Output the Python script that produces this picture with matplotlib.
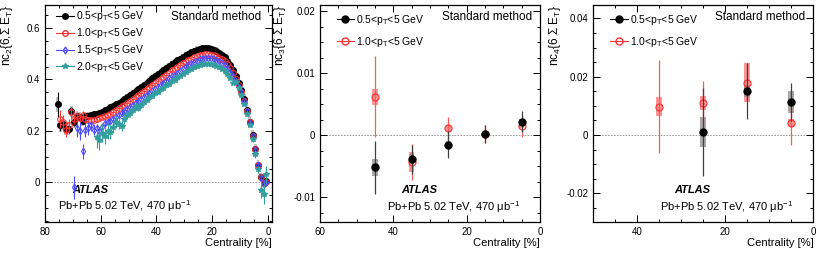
import numpy as np
import matplotlib
matplotlib.use('Agg')
import matplotlib.pyplot as plt
from matplotlib.lines import Line2D
from matplotlib.ticker import MultipleLocator, FuncFormatter

plt.rcParams['font.family'] = ['Liberation Sans', 'DejaVu Sans']
plt.rcParams['mathtext.fontset'] = 'custom'
plt.rcParams['mathtext.rm'] = 'Liberation Sans'
plt.rcParams['mathtext.it'] = 'Liberation Sans:italic'
plt.rcParams['mathtext.bf'] = 'Liberation Sans:bold'

#### panel 1 : nc2, 1% centrality bins
cent_k = np.arange(75.5, 0, -1)
cent_r = np.arange(74.5, 0, -1)
cent_b = np.arange(69.5, 0, -1)
cent_c = np.arange(61.5, 0, -1)

nc2_k = [0.303, 0.221, 0.228, 0.208, 0.209, 0.276, 0.234, 0.256, 0.255, 0.238,
         0.258, 0.259, 0.261, 0.264, 0.267, 0.271, 0.275, 0.280, 0.285, 0.291,
         0.297, 0.303, 0.310, 0.317, 0.324, 0.331, 0.339, 0.347, 0.355, 0.363,
         0.371, 0.380, 0.388, 0.396, 0.404, 0.412, 0.420, 0.428, 0.436, 0.444,
         0.452, 0.460, 0.467, 0.474, 0.481, 0.488, 0.494, 0.500, 0.506, 0.511,
         0.516, 0.519, 0.521, 0.522, 0.522, 0.520, 0.516, 0.511, 0.505, 0.497,
         0.487, 0.472, 0.455, 0.435, 0.413, 0.388, 0.359, 0.323, 0.281, 0.236,
         0.182, 0.130, 0.068, 0.022, -0.002, 0.003]
stat_k = [0.050, 0.020, 0.022, 0.018, 0.018, 0.015, 0.015, 0.012, 0.012, 0.010,
          0.008, 0.008, 0.007, 0.006, 0.006, 0.005, 0.005, 0.005, 0.004, 0.004,
          0.004, 0.003, 0.003, 0.003, 0.003, 0.003, 0.003, 0.003, 0.003, 0.003,
          0.003, 0.003, 0.003, 0.003, 0.003, 0.003, 0.003, 0.003, 0.003, 0.003,
          0.003, 0.003, 0.003, 0.003, 0.003, 0.003, 0.003, 0.003, 0.003, 0.003,
          0.003, 0.003, 0.003, 0.003, 0.003, 0.003, 0.003, 0.003, 0.003, 0.003,
          0.003, 0.003, 0.003, 0.003, 0.003, 0.003, 0.003, 0.003, 0.003, 0.004,
          0.004, 0.005, 0.006, 0.008, 0.010, 0.010]
sys_k = [0.030, 0.025, 0.025, 0.025, 0.025, 0.022, 0.022, 0.020, 0.020, 0.018,
         0.015, 0.015, 0.014, 0.013, 0.012, 0.011, 0.010, 0.010, 0.009, 0.009,
         0.008, 0.008, 0.008, 0.008, 0.008, 0.008, 0.008, 0.008, 0.008, 0.008,
         0.008, 0.008, 0.008, 0.008, 0.008, 0.009, 0.009, 0.009, 0.009, 0.010,
         0.010, 0.010, 0.010, 0.011, 0.011, 0.011, 0.012, 0.012, 0.012, 0.012,
         0.013, 0.013, 0.013, 0.013, 0.013, 0.013, 0.013, 0.014, 0.014, 0.014,
         0.015, 0.015, 0.016, 0.017, 0.018, 0.019, 0.020, 0.021, 0.022, 0.022,
         0.022, 0.020, 0.018, 0.015, 0.012, 0.010]

nc2_r = [0.247, 0.234, 0.205, 0.222, 0.272, 0.245, 0.256, 0.250, 0.262, 0.245,
         0.243, 0.243, 0.244, 0.246, 0.249, 0.252, 0.256, 0.260, 0.267, 0.274,
         0.281, 0.288, 0.295, 0.302, 0.309, 0.317, 0.325, 0.333, 0.341, 0.349,
         0.355, 0.363, 0.371, 0.379, 0.387, 0.395, 0.403, 0.411, 0.419, 0.427,
         0.435, 0.442, 0.449, 0.456, 0.463, 0.469, 0.475, 0.481, 0.486, 0.491,
         0.495, 0.497, 0.498, 0.498, 0.497, 0.494, 0.490, 0.485, 0.479, 0.471,
         0.459, 0.443, 0.424, 0.403, 0.379, 0.351, 0.317, 0.277, 0.233, 0.180,
         0.129, 0.066, 0.020, -0.002, 0.002]
stat_r = [0.035, 0.028, 0.030, 0.025, 0.022, 0.020, 0.018, 0.016, 0.015, 0.013,
          0.011, 0.010, 0.009, 0.008, 0.007, 0.006, 0.006, 0.005, 0.005, 0.005,
          0.004, 0.004, 0.004, 0.004, 0.004, 0.004, 0.004, 0.004, 0.004, 0.004,
          0.004, 0.004, 0.004, 0.004, 0.004, 0.004, 0.004, 0.004, 0.004, 0.004,
          0.004, 0.004, 0.004, 0.004, 0.004, 0.004, 0.004, 0.004, 0.004, 0.004,
          0.004, 0.004, 0.004, 0.004, 0.004, 0.004, 0.004, 0.004, 0.004, 0.004,
          0.004, 0.004, 0.004, 0.004, 0.004, 0.004, 0.004, 0.004, 0.005, 0.005,
          0.006, 0.007, 0.008, 0.010, 0.010]

nc2_b = [-0.020, 0.212, 0.200, 0.120, 0.205, 0.210, 0.222, 0.205, 0.210, 0.200,
         0.215, 0.230, 0.233, 0.240, 0.246, 0.253, 0.262, 0.270, 0.278, 0.286,
         0.294, 0.302, 0.310, 0.318, 0.325, 0.333, 0.341, 0.348, 0.355, 0.363,
         0.372, 0.380, 0.388, 0.396, 0.404, 0.412, 0.419, 0.426, 0.433, 0.440,
         0.451, 0.457, 0.463, 0.468, 0.473, 0.478, 0.481, 0.483, 0.484, 0.483,
         0.480, 0.476, 0.471, 0.464, 0.456, 0.444, 0.430, 0.413, 0.394, 0.372,
         0.350, 0.316, 0.276, 0.232, 0.178, 0.127, 0.066, 0.018, -0.006, 0.000]
stat_b = [0.045, 0.035, 0.035, 0.030, 0.028, 0.025, 0.022, 0.020, 0.018, 0.016,
          0.015, 0.013, 0.012, 0.011, 0.010, 0.009, 0.008, 0.008, 0.007, 0.007,
          0.006, 0.006, 0.005, 0.005, 0.005, 0.005, 0.005, 0.005, 0.005, 0.005,
          0.005, 0.005, 0.005, 0.005, 0.005, 0.005, 0.005, 0.005, 0.005, 0.005,
          0.005, 0.005, 0.005, 0.005, 0.005, 0.005, 0.005, 0.005, 0.005, 0.005,
          0.005, 0.005, 0.005, 0.005, 0.005, 0.005, 0.005, 0.005, 0.005, 0.005,
          0.005, 0.005, 0.006, 0.006, 0.007, 0.008, 0.010, 0.012, 0.015, 0.015]

nc2_c = [0.175, 0.165, 0.190, 0.180, 0.200, 0.195, 0.215, 0.234, 0.227, 0.220,
         0.245, 0.262, 0.270, 0.282, 0.295, 0.288, 0.300, 0.312, 0.322, 0.330,
         0.336, 0.347, 0.350, 0.362, 0.366, 0.378, 0.382, 0.394, 0.397, 0.408,
         0.414, 0.423, 0.428, 0.436, 0.440, 0.448, 0.451, 0.457, 0.460, 0.462,
         0.462, 0.461, 0.458, 0.454, 0.449, 0.442, 0.433, 0.420, 0.405, 0.388,
         0.390, 0.367, 0.340, 0.305, 0.265, 0.222, 0.168, 0.108, 0.050, -0.030,
         -0.045, 0.030]
stat_c = [0.040, 0.038, 0.035, 0.033, 0.030, 0.028, 0.025, 0.023, 0.021, 0.020,
          0.018, 0.016, 0.015, 0.014, 0.013, 0.012, 0.011, 0.010, 0.009, 0.009,
          0.008, 0.008, 0.008, 0.007, 0.007, 0.007, 0.007, 0.007, 0.007, 0.007,
          0.007, 0.007, 0.007, 0.007, 0.007, 0.007, 0.007, 0.007, 0.007, 0.007,
          0.007, 0.007, 0.007, 0.007, 0.007, 0.007, 0.007, 0.007, 0.007, 0.007,
          0.007, 0.007, 0.007, 0.008, 0.008, 0.009, 0.010, 0.012, 0.015, 0.030,
          0.040, 0.035]

#### panel 2 : nc3
cent3 = [45, 35, 25, 15, 5]
nc3_k = [-0.0052, -0.0039, -0.0015, 0.0002, 0.0022]
nc3_k_stat = [0.0043, 0.0024, 0.0022, 0.0014, 0.0017]
nc3_k_sys = [0.0013, 0.0008, 0.0006, 0.0003, 0.0004]
nc3_r = [0.0062, -0.0043, 0.0012, 0.0002, 0.0015]
nc3_r_stat = [0.0065, 0.0029, 0.0018, 0.0014, 0.0018]
nc3_r_sys = [0.0013, 0.0016, 0.0005, 0.0003, 0.0003]

#### panel 3 : nc4
cent4_k = [25, 15, 5]
nc4_k = [0.0010, 0.0152, 0.0112]
nc4_k_stat = [0.0150, 0.0096, 0.0065]
nc4_k_sys = [0.0052, 0.0020, 0.0038]
cent4_r = [35, 25, 15, 5]
nc4_r = [0.0097, 0.0110, 0.0180, 0.0042]
nc4_r_stat = [0.0160, 0.0077, 0.0066, 0.0075]
nc4_r_sys = [0.0033, 0.0024, 0.0066, 0.0012]

labels = ['0.5<p$_\\mathrm{T}$<5 GeV', '1.0<p$_\\mathrm{T}$<5 GeV',
          '1.5<p$_\\mathrm{T}$<5 GeV', '2.0<p$_\\mathrm{T}$<5 GeV']

RED = (1.0, 0.2, 0.2)
BLUE = (0.3, 0.3, 1.0)
CYAN = (0.2, 0.62, 0.62)

fs = 8
fig = plt.figure(figsize=(8.3, 2.58), dpi=100)
ax1 = fig.add_axes([45/830, 1-222/258, 227/830, 217/258])
ax2 = fig.add_axes([320/830, 1-222/258, 220/830, 217/258])
ax3 = fig.add_axes([593.3/830, 1-222/258, 220/830, 217/258])


def style(ax, xmaj, xmin, ymaj, ymin):
    ax.xaxis.set_major_locator(MultipleLocator(xmaj))
    ax.xaxis.set_minor_locator(MultipleLocator(xmin))
    ax.yaxis.set_major_locator(MultipleLocator(ymaj))
    ax.yaxis.set_minor_locator(MultipleLocator(ymin))
    ax.tick_params(which='both', direction='in', top=True, right=True, labelsize=7, width=0.7)
    ax.tick_params(which='major', length=5)
    ax.tick_params(which='minor', length=2.5)
    ax.xaxis.set_major_formatter(FuncFormatter(lambda v, p: '%g' % v))
    ax.yaxis.set_major_formatter(FuncFormatter(lambda v, p: '%g' % round(v, 6)))
    for s in ax.spines.values():
        s.set_linewidth(0.9)
    ax.axhline(0, color='0.55', ls=(0, (2, 1.5)), lw=0.6, zorder=0)
    ax.set_xlabel('Centrality [%]', fontsize=fs, loc='right')
    ax.xaxis.set_label_coords(1.0, -0.075)
    ax.text(0.553, 0.945, 'Standard method', transform=ax.transAxes, fontsize=8.5, va='center')


# ---- panel 1
ax1.bar(cent_k, 2*np.array(sys_k), bottom=np.array(nc2_k)-np.array(sys_k), width=1.0,
        color='0.75', lw=0, zorder=1)
ax1.errorbar(cent_k, nc2_k, yerr=stat_k, fmt='o', ms=4, color='k', elinewidth=0.8, zorder=3)
ax1.errorbar(cent_r, nc2_r, yerr=stat_r, fmt='o', ms=4, mfc='none', mec=RED, mew=0.8,
             color=RED, elinewidth=0.8, zorder=4)
ax1.errorbar(cent_b, nc2_b, yerr=stat_b, fmt='d', ms=3.5, mfc='none', mec=BLUE, mew=0.8,
             color=BLUE, elinewidth=0.8, zorder=5)
ax1.errorbar(cent_c, nc2_c, yerr=stat_c, fmt='*', ms=4, color=CYAN, elinewidth=0.8, zorder=6)
ax1.set_xlim(80, -1.5)
ax1.set_ylim(-0.155, 0.69)
style(ax1, 20, 5, 0.2, 0.05)
ax1.set_ylabel('nc$_2${6,$\\Sigma$ E$_\\mathrm{T}$}', fontsize=8.5, loc='top')
ax1.yaxis.set_label_coords(-0.13, 1.0)
h1 = [Line2D([], [], color='k', marker='o', ms=4, lw=0.8),
      Line2D([], [], color=RED, marker='o', ms=4, mfc='none', lw=0.8),
      Line2D([], [], color=BLUE, marker='d', ms=3.5, mfc='none', lw=0.8),
      Line2D([], [], color=CYAN, marker='*', ms=4, lw=0.8)]
ax1.legend(h1, labels, loc='upper left', bbox_to_anchor=(0.05, 0.98), frameon=False,
           fontsize=7.5, handlelength=1.7, handletextpad=0.2, labelspacing=0.28,
           borderpad=0, borderaxespad=0)
ax1.text(0.12, 0.147, 'ATLAS', transform=ax1.transAxes, fontsize=8, fontweight='bold',
         style='italic', va='center')
ax1.text(0.059, 0.075, 'Pb+Pb 5.02 TeV, 470 \u03bcb$^{-1}$', transform=ax1.transAxes,
         fontsize=8, va='center')


def small_panel(ax, xk, yk, ek, sk, xr, yr, er, sr):
    ax.bar(xr, 2*np.array(sr), bottom=np.array(yr)-np.array(sr), width=1.4,
           color=(1.0, 0.45, 0.45), alpha=0.75, lw=0, zorder=1)
    ax.bar(xk, 2*np.array(sk), bottom=np.array(yk)-np.array(sk), width=1.4,
           color='0.55', alpha=0.75, lw=0, zorder=1)
    ax.errorbar(xr, yr, yerr=er, fmt='o', ms=5, mfc='none', mec=RED, mew=0.9,
                ecolor=(1.0, 0.35, 0.35), elinewidth=0.9, zorder=3)
    ax.errorbar(xk, yk, yerr=ek, fmt='o', ms=5, color='k', ecolor='0.25',
                elinewidth=0.9, zorder=4)
    h = [Line2D([], [], color='k', marker='o', ms=5, lw=0.8),
         Line2D([], [], color=RED, marker='o', ms=5, mfc='none', lw=0.8)]
    ax.legend(h, labels[:2], loc='upper left', bbox_to_anchor=(0.075, 0.965), frameon=False,
              fontsize=7.5, handlelength=1.7, handletextpad=0.2, labelspacing=0.8,
              borderpad=0, borderaxespad=0)
    ax.text(0.368, 0.147, 'ATLAS', transform=ax.transAxes, fontsize=8, fontweight='bold',
            style='italic', va='center')
    ax.text(0.303, 0.07, 'Pb+Pb 5.02 TeV, 470 \u03bcb$^{-1}$', transform=ax.transAxes,
            fontsize=8, va='center')


# ---- panel 2
small_panel(ax2, cent3, nc3_k, nc3_k_stat, nc3_k_sys, cent3, nc3_r, nc3_r_stat, nc3_r_sys)
ax2.set_xlim(60, 0)
ax2.set_ylim(-0.014, 0.021)
style(ax2, 20, 5, 0.01, 0.0025)
ax2.set_ylabel('nc$_3${6 $\\Sigma$ E$_\\mathrm{T}$}', fontsize=8.5, loc='top')
ax2.yaxis.set_label_coords(-0.145, 1.0)

# ---- panel 3
small_panel(ax3, cent4_k, nc4_k, nc4_k_stat, nc4_k_sys, cent4_r, nc4_r, nc4_r_stat, nc4_r_sys)
ax3.set_xlim(50, 0)
ax3.set_ylim(-0.0298, 0.0446)
style(ax3, 20, 5, 0.02, 0.005)
ax3.set_ylabel('nc$_4${6 $\\Sigma$ E$_\\mathrm{T}$}', fontsize=8.5, loc='top')
ax3.yaxis.set_label_coords(-0.138, 1.0)

plt.savefig('out.png', dpi=100)
